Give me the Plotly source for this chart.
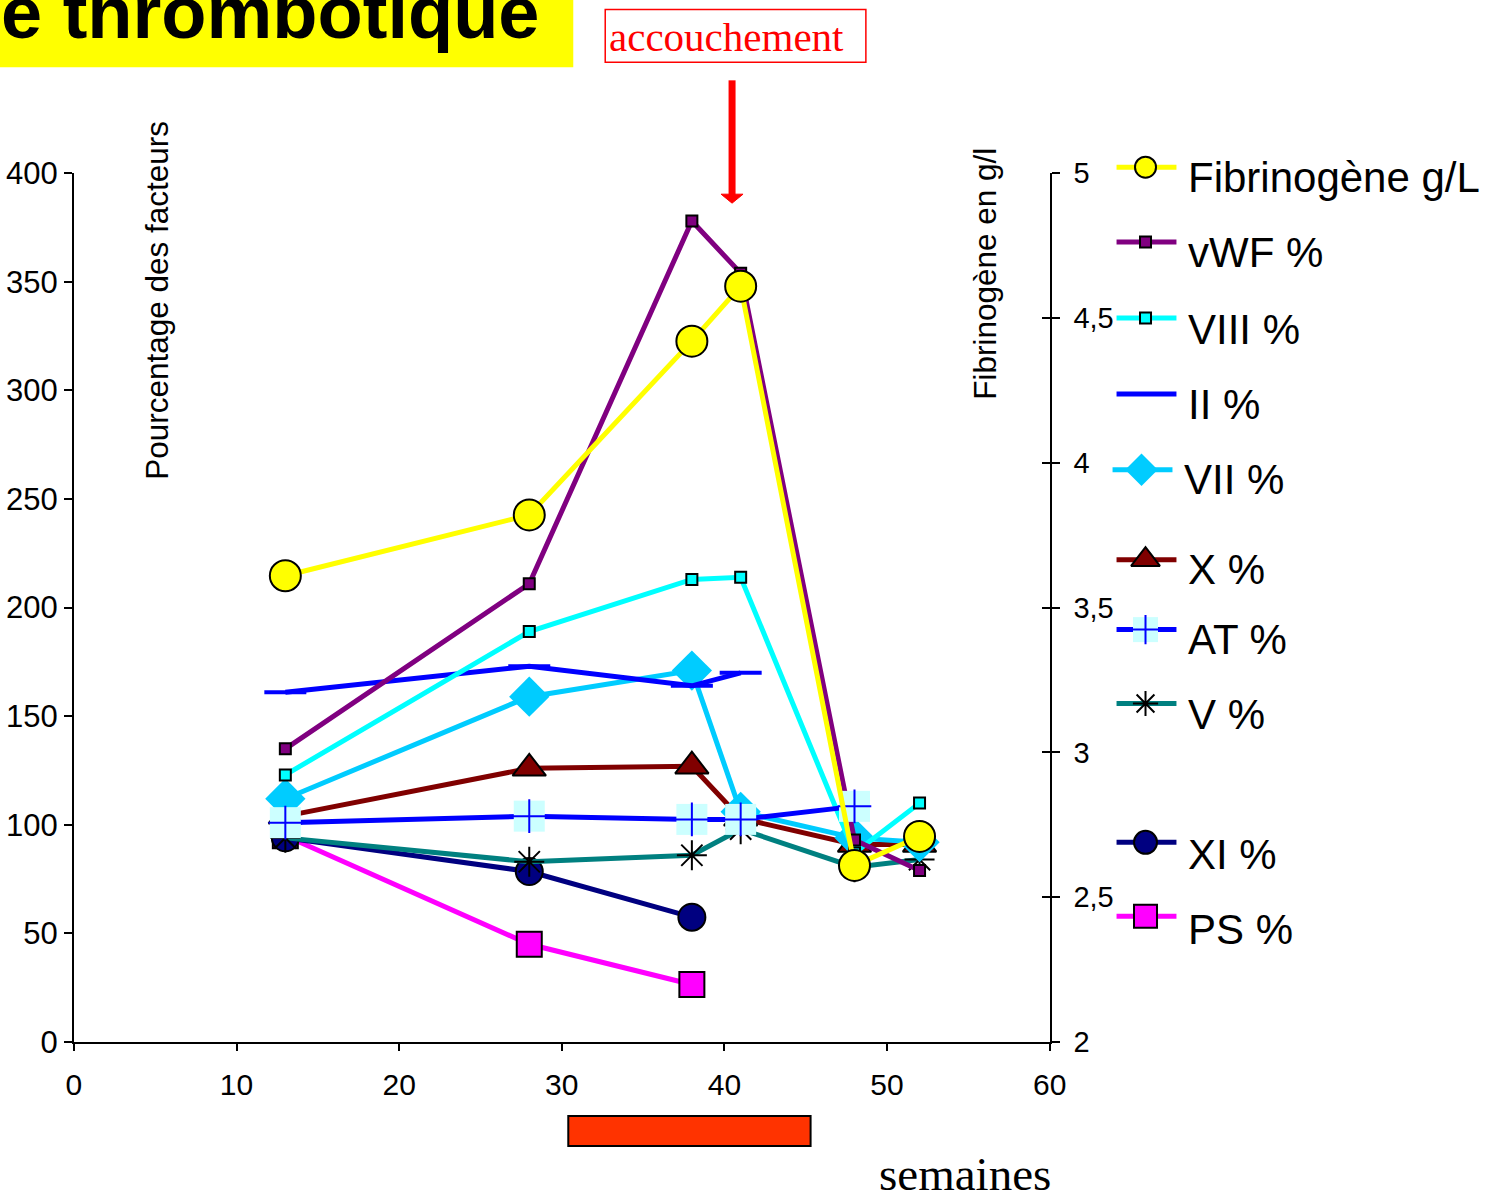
import plotly.graph_objects as go

# ---------------- data ----------------
weeks = [13, 28, 38, 41, 48, 52]
fibrinogene = [3.61, 3.82, 4.42, 4.61, 2.61, 2.71]      # g/L (right axis)
vwf = [135, 211, 378, 354, 93, 79]
viii = [123, 189, 213, 214, 87, 110]
ii_weeks = [13, 28, 38, 41]
ii = [161, 173, 164, 170]
vii = [112, 159, 171, 106, 94, 92]
facteur_x = [104, 126, 127, 103, 91, 91]
at_weeks = [13, 28, 38, 41, 48]
at = [101, 104, 102.5, 102.5, 108.5]
v = [94, 83, 86, 98, 80.5, 84]
early_weeks = [13, 28, 38]
xi = [94, 78.5, 57.5]
ps = [95, 45, 26.5]

x_ticks = [0, 10, 20, 30, 40, 50, 60]
left_ticks = [0, 50, 100, 150, 200, 250, 300, 350, 400]
right_ticks = [2, 2.5, 3, 3.5, 4, 4.5, 5]
right_tick_text = ["2", "2,5", "3", "3,5", "4", "4,5", "5"]
period_weeks = [30.4, 45.3]   # orange band under the axis

# ---------------- layout geometry ----------------
# measured relation between page pixels and the photographed picture:
# picture = A + S * page
SX, AX = 0.9847, -0.9
SY, AY = 0.9724, 8.8
OX, OY = 8, 8                      # page margin around the figure
W, H = 1505, 1211                  # figure size (page pixels)


def fx(r):   # picture x -> figure pixel
    return (r - AX) / SX - OX


def fy(r):   # picture y -> figure pixel
    return (r - AY) / SY - OY


def px(r):   # picture x -> paper fraction
    return fx(r) / W


def py(r):   # picture y -> paper fraction
    return 1 - fy(r) / H


PL, PR, PT, PB = 73, 1050, 173, 1043   # plot area in picture pixels
SANS = "Arial, Liberation Sans, sans-serif"
SERIF = "Times New Roman, Liberation Serif, serif"

fig = go.Figure()


def add_series(xv, yv, color, symbol, size, fill, mline="black", mlw=2, yaxis="y",
               width=5, mode="lines+markers"):
    fig.add_trace(go.Scatter(
        x=xv, y=yv, mode=mode, yaxis=yaxis, xaxis="x", showlegend=False,
        line=dict(color=color, width=width),
        marker=dict(symbol=symbol, size=size, color=fill,
                    line=dict(color=mline, width=mlw)),
        cliponaxis=False))


# drawing order (bottom -> top)
add_series(early_weeks, ps, "#ff00ff", "square", 25, "#ff00ff")
add_series(early_weeks, xi, "#000080", "circle", 27, "#000080")
add_series(weeks, v, "#008080", "asterisk-open", 25, "black", mline="black", mlw=2)
add_series(weeks, facteur_x, "#800000", "triangle-up", 29, "#800000")
add_series(weeks, vii, "#00ccff", "diamond", 31, "#00ccff", mlw=0)
add_series(ii_weeks, ii, "#0000ff", "line-ew", 30, "#0000ff", mline="#0000ff", mlw=4)
add_series(weeks, viii, "#00ffff", "square", 11, "#00ffff")
add_series(weeks, vwf, "#800080", "square", 11, "#800080")
add_series(at_weeks, at, "#0000ff", "square", 31, "#ccffff", mlw=0)
add_series(at_weeks, at, "#0000ff", "cross-thin-open", 24, "#0000ff",
           mline="#0000ff", mlw=2, mode="markers")
add_series(weeks, fibrinogene, "#ffff00", "circle", 31, "#ffff00", yaxis="y2")
# carrier for the inner half of the right-axis ticks
fig.add_trace(go.Scatter(x=[None], y=[None], xaxis="x", yaxis="y4", showlegend=False))

# ---------------- custom legend (picture-pixel helper axes x3/y3) ----------------
legend_rows = [
    # label, line colour, symbol, size, fill, marker line colour, marker line width, y line, y text, x shift
    ("Fibrinogène g/L", "#ffff00", "circle", 21, "#ffff00", "black", 2, 167, 177, 0),
    ("vWF %", "#800080", "square", 11, "#800080", "black", 2, 242, 252, 0),
    ("VIII %", "#00ffff", "square", 11, "#00ffff", "black", 2, 318, 329, 0),
    ("II %", "#0000ff", None, 0, None, None, 0, 394, 405, 0),
    ("VII %", "#00ccff", "diamond", 25, "#00ccff", "#00ccff", 0, 470, 480, -4),
    ("X %", "#800000", "triangle-up", 25, "#800000", "black", 2, 560, 570, 0),
    ("AT %", "#0000ff", "square", 25, "#ccffff", "#ccffff", 0, 630, 640, 0),
    ("V %", "#008080", "asterisk-open", 21, "black", "black", 2, 704, 715, 0),
    ("XI %", "#000080", "circle", 23, "#000080", "black", 2, 843, 855, 0),
    ("PS %", "#ff00ff", "square", 23, "#ff00ff", "black", 2, 917, 930, 0),
]
LX0, LX1, LXM, LXT = 1117, 1177, 1146, 1187

annotations = []
for (label, col, sym, size, fill, mcol, mlw, yl, yt, dx) in legend_rows:
    fig.add_trace(go.Scatter(
        x=[LX0 + dx, LX1 + dx], y=[yl, yl], mode="lines", xaxis="x3", yaxis="y3",
        line=dict(color=col, width=5), showlegend=False, hoverinfo="skip",
        cliponaxis=False))
    if sym:
        fig.add_trace(go.Scatter(
            x=[LXM + dx], y=[yl], mode="markers", xaxis="x3", yaxis="y3",
            marker=dict(symbol=sym, size=size, color=fill, line=dict(color=mcol, width=mlw)),
            showlegend=False, hoverinfo="skip", cliponaxis=False))
    if label == "AT %":
        fig.add_trace(go.Scatter(
            x=[LXM + dx], y=[yl], mode="markers", xaxis="x3", yaxis="y3",
            marker=dict(symbol="cross-thin-open", size=21, color="#0000ff",
                        line=dict(color="#0000ff", width=2)),
            showlegend=False, hoverinfo="skip", cliponaxis=False))
    annotations.append(dict(
        x=LXT + dx, y=yt, xref="x3", yref="y3", text=label, showarrow=False,
        xanchor="left", yanchor="middle", font=dict(family=SANS, size=42, color="black")))

# ---------------- texts ----------------
annotations += [
    dict(x=px(-2), y=py(56), xref="paper", yref="paper", text="<b>e thrombotique</b>",
         showarrow=False, xanchor="left", yanchor="bottom",
         font=dict(family=SANS, size=74, color="black")),
    dict(x=607, y=37, xref="x3", yref="y3", text="accouchement", showarrow=False,
         xanchor="left", yanchor="middle", font=dict(family=SERIF, size=41, color="#ff0000")),
    dict(x=877, y=1175, xref="x3", yref="y3", text="semaines", showarrow=False,
         xanchor="left", yanchor="middle", font=dict(family=SERIF, size=47, color="black")),
    dict(x=156, y=300, xref="x3", yref="y3", text="Pourcentage des facteurs", showarrow=False,
         textangle=-90, xanchor="center", yanchor="middle",
         font=dict(family=SANS, size=31.5, color="black")),
    dict(x=985, y=274, xref="x3", yref="y3", text="Fibrinogène en g/l", showarrow=False,
         textangle=-90, xanchor="center", yanchor="middle",
         font=dict(family=SANS, size=31.5, color="black")),
]

shapes = [
    dict(type="rect", xref="paper", yref="paper", x0=px(-10), x1=px(573), y0=py(-10), y1=py(67),
         fillcolor="#ffff00", line=dict(width=0), layer="below"),
    dict(type="rect", xref="paper", yref="paper", x0=px(605), x1=px(866), y0=py(9), y1=py(62),
         fillcolor="rgba(0,0,0,0)", line=dict(color="#ff0000", width=1.5)),
    dict(type="line", xref="x3", yref="y3", x0=732, x1=732, y0=80, y1=196,
         line=dict(color="#ff0000", width=7)),
    dict(type="path", xref="x3", yref="y3", path="M 721,194 L 743,194 L 732,203 Z",
         fillcolor="#ff0000", line=dict(color="#ff0000", width=1)),
    dict(type="rect", xref="x", yref="y3", x0=period_weeks[0], x1=period_weeks[1],
         y0=1117, y1=1147, fillcolor="#ff3300", line=dict(color="black", width=2)),
]

axis_common = dict(showgrid=False, zeroline=False, showline=True, linecolor="black",
                   linewidth=2, ticks="outside", tickcolor="black", tickwidth=2)

fig.update_layout(
    width=W, height=H,
    margin=dict(l=0, r=0, t=0, b=0, pad=0),
    paper_bgcolor="white", plot_bgcolor="rgba(0,0,0,0)",
    showlegend=False,
    xaxis=dict(domain=[fx(PL) / W, fx(PR) / W], range=[0, 60], anchor="y",
               tickvals=x_ticks, ticklen=7, ticklabelstandoff=8,
               tickfont=dict(family=SANS, size=30, color="black"), **axis_common),
    yaxis=dict(domain=[1 - fy(PB) / H, 1 - fy(PT) / H], range=[0, 400], anchor="x",
               tickvals=left_ticks, ticklen=8,
               tickfont=dict(family=SANS, size=31, color="black"), **axis_common),
    yaxis2=dict(overlaying="y", side="right", anchor="x", range=[2, 5],
                tickvals=right_ticks, ticktext=right_tick_text, ticklen=8,
                ticklabelstandoff=8,
                tickfont=dict(family=SANS, size=29, color="black"), **axis_common),
    yaxis4=dict(overlaying="y", side="right", anchor="x", range=[2, 5],
                tickvals=right_ticks, ticks="inside", ticklen=8, tickwidth=2,
                tickcolor="black", showticklabels=False, showline=False,
                showgrid=False, zeroline=False),
    xaxis3=dict(domain=[0, 1], range=[AX + SX * OX, AX + SX * (OX + W)], anchor="y3",
                visible=False, fixedrange=True),
    yaxis3=dict(domain=[0, 1], range=[AY + SY * (OY + H), AY + SY * OY], anchor="x3",
                visible=False, fixedrange=True),
    annotations=annotations,
    shapes=shapes,
)

fig.write_html("out.html")
